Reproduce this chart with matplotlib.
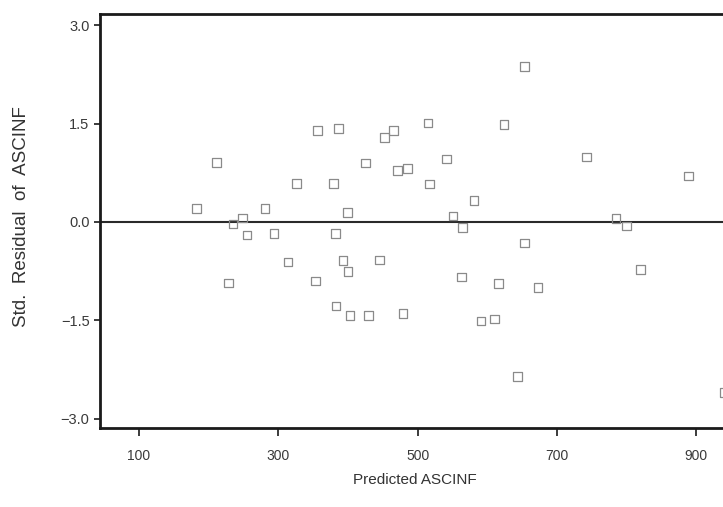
import matplotlib
matplotlib.use("Agg")
import matplotlib.pyplot as plt

plt.rcParams['font.family'] = ['Liberation Sans', 'DejaVu Sans']

predicted = [183, 211, 228, 235, 249, 255, 281, 294, 314, 326,
             356, 354, 379, 382, 387, 383, 393, 399, 400, 403,
             425, 429, 445, 453, 465, 471, 479, 486, 515, 517,
             542, 551, 564, 563, 581, 591, 611, 616, 624, 644,
             654, 654, 673, 743, 785, 800, 820, 889, 940]
residual = [0.21, 0.91, -0.93, -0.03, 0.06, -0.20, 0.20, -0.18, -0.61, 0.59,
            1.40, -0.90, 0.59, -0.17, 1.42, -1.28, -0.59, 0.14, -0.76, -1.42,
            0.90, -1.42, -0.58, 1.29, 1.40, 0.78, -1.40, 0.82, 1.51, 0.58,
            0.96, 0.09, -0.08, -0.84, 0.33, -1.51, -1.48, -0.94, 1.48, -2.36,
            2.37, -0.32, -1.00, 0.99, 0.05, -0.06, -0.72, 0.70, -2.60]

x_ticks = [100, 300, 500, 700, 900]
y_ticks = [-3.0, -1.5, 0.0, 1.5, 3.0]
y_tick_labels = ["−3.0", "−1.5", "0.0", "1.5", "3.0"]

W, H = 723, 507
fig = plt.figure(figsize=(W / 100, H / 100), dpi=100)
ax = fig.add_axes([100 / W, (H - 428) / H, 640 / W, 414 / H])

ax.scatter(predicted, residual, marker='s', s=40, facecolors='none',
           edgecolors='#8a8a8a', linewidths=0.9, zorder=3, clip_on=False)
ax.axhline(0, color='#2a2a2a', linewidth=1.5, zorder=2)

ax.set_xlim(44, 963)
ax.set_ylim(-3.14, 3.17)
ax.set_xticks(x_ticks)
ax.set_xticklabels([str(v) for v in x_ticks])
ax.set_yticks(y_ticks)
ax.set_yticklabels(y_tick_labels)

for s in ax.spines.values():
    s.set_linewidth(2.0)
    s.set_color('#1a1a1a')

ax.tick_params(axis='x', direction='out', length=6, width=1.2, pad=9,
               labelsize=10, colors='#1a1a1a', labelcolor='#3a3a3a')
ax.tick_params(axis='y', direction='out', length=4.5, width=1.2, pad=3,
               labelsize=10.5, colors='#1a1a1a', labelcolor='#3a3a3a')

ax.set_xlabel("Predicted ASCINF", fontsize=11, color='#333333')
ax.xaxis.set_label_coords((415 - 100) / 640, -(480 - 428) / 414)
ax.xaxis.label.set_verticalalignment('center')
ax.set_ylabel("Std.  Residual  of  ASCINF", fontsize=13.5, color='#333333')
ax.yaxis.set_label_coords(-(100 - 21) / 640, (428 - 217) / 414)
ax.yaxis.label.set_verticalalignment('center')

fig.savefig("out.png", dpi=100)
